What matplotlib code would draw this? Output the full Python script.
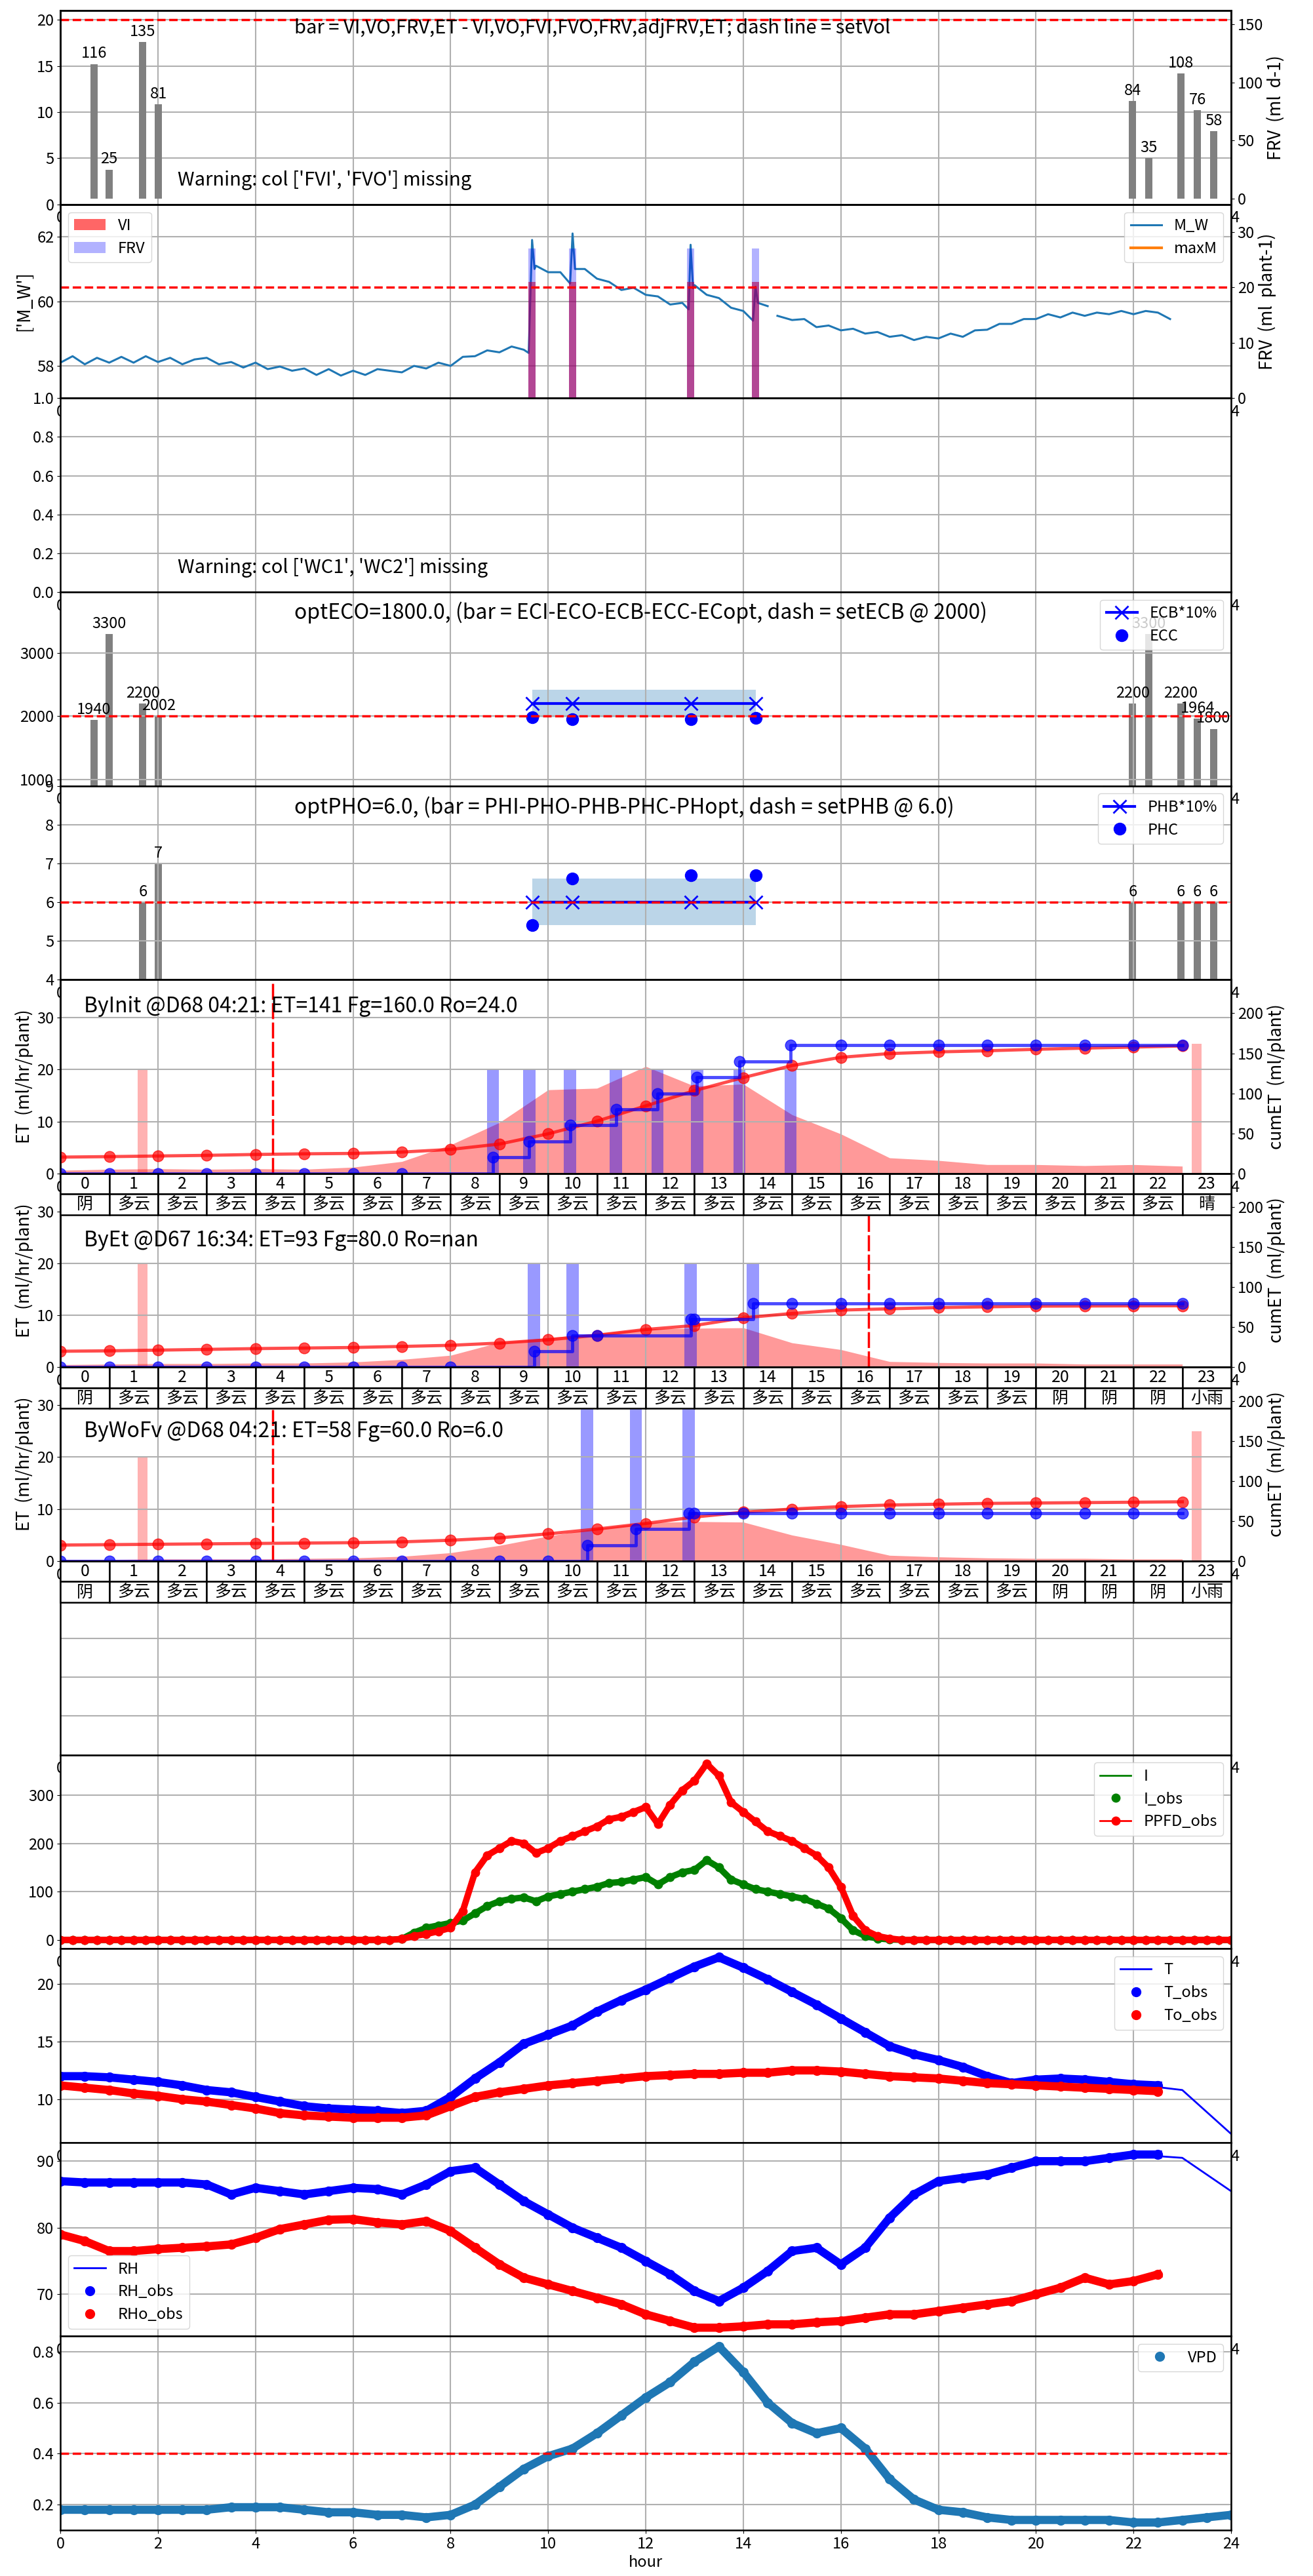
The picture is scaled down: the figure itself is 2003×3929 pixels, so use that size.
import numpy as np
import matplotlib
matplotlib.use('Agg')
import matplotlib.pyplot as plt

plt.rcParams['font.family'] = ['Noto Sans CJK SC', 'DejaVu Sans']
plt.rcParams['font.size'] = 17
plt.rcParams['axes.unicode_minus'] = False
plt.rcParams['axes.linewidth'] = 1.8
plt.rcParams['grid.linewidth'] = 1.5

# ---------------- data ----------------
bar_x = [0.69, 1.0, 1.69, 2.01, 21.98, 22.31, 22.97, 23.31, 23.64]
frv_day = [116, 25, 135, 81, 84, 35, 108, 76, 58]
set_vol = 20

event_x = [9.67, 10.5, 12.92, 14.25]
vi_vals = [21, 21, 21, 21]
frv_vals = [27, 27, 27, 27]

mw_t = [0.0, 0.25, 0.5, 0.75, 1.0, 1.25, 1.5, 1.75, 2.0, 2.25, 2.5, 2.75, 3.0, 3.25,
        3.5, 3.75, 4.0, 4.25, 4.5, 4.75, 5.0, 5.25, 5.5, 5.75, 6.0, 6.25, 6.5, 6.75,
        7.0, 7.25, 7.5, 7.75, 8.0, 8.25, 8.5, 8.75, 9.0, 9.25, 9.5, 9.6, 9.67, 9.72,
        9.75, 10.0, 10.25, 10.45, 10.5, 10.55, 10.75, 11.0, 11.25, 11.5, 11.75, 12.0,
        12.25, 12.5, 12.75, 12.88, 12.92, 12.97, 13.0, 13.25, 13.5, 13.75, 14.0, 14.2,
        14.25, 14.3, 14.5, 14.55, 14.7, 15.0, 15.25, 15.5, 15.75, 16.0, 16.25, 16.5,
        16.75, 17.0, 17.25, 17.5, 17.75, 18.0, 18.25, 18.5, 18.75, 19.0, 19.25, 19.5,
        19.75, 20.0, 20.25, 20.5, 20.75, 21.0, 21.25, 21.5, 21.75, 22.0, 22.25, 22.5, 22.75]
mw_v = [58.1, 58.3, 58.05, 58.25, 58.1, 58.28, 58.1, 58.3, 58.12, 58.25, 58.05, 58.2, 58.25, 58.05,
        58.12, 57.95, 58.1, 57.9, 57.98, 57.85, 57.92, 57.72, 57.9, 57.7, 57.85, 57.72, 57.9, 57.85,
        57.8, 58.0, 57.92, 58.1, 58.0, 58.28, 58.3, 58.48, 58.42, 58.6, 58.5, 58.4, 61.9, 61.0,
        61.1, 60.9, 60.9, 60.55, 62.1, 61.0, 61.0, 60.7, 60.6, 60.35, 60.42, 60.2,
        60.15, 59.9, 59.95, 59.75, 61.75, 60.4, 60.5, 60.2, 60.1, 59.8, 59.7, 59.4,
        60.45, 59.95, 59.85, np.nan, 59.55, 59.42, 59.45, 59.2, 59.25, 59.1, 59.15, 59.0,
        59.05, 58.9, 58.95, 58.8, 58.9, 58.85, 59.0, 58.9, 59.1, 59.12, 59.3, 59.3,
        59.45, 59.45, 59.6, 59.5, 59.65, 59.55, 59.65, 59.6, 59.7, 59.6, 59.7, 59.65, 59.45]

eco_day = [1940, 3300, 2200, 2002, 2200, 3300, 2200, 1964, 1800]
set_ecb = 2000
ecb_vals = [2200, 2200, 2200, 2200]
ecc_vals = [1980, 1950, 1950, 1975]

pho_x = [1.69, 2.01, 21.98, 22.97, 23.31, 23.64]
pho_day = [6, 7, 6, 6, 6, 6]
set_phb = 6.0
phb_vals = [6.0, 6.0, 6.0, 6.0]
phc_vals = [5.4, 6.6, 6.7, 6.7]

hours = list(range(24))

init_et = [0.6, 0.8, 0.9, 0.8, 0.9, 0.8, 1.2, 2.3, 5.5, 9.8, 16.1, 16.4, 20.6, 16.8, 17.2, 11.3,
           7.6, 3.0, 2.5, 1.7, 1.7, 1.5, 1.7, 1.4]
init_cum = [20.4, 21.0, 21.8, 22.6, 23.7, 24.5, 25.0, 26.7, 30.0, 36.7, 49.5, 65.3, 84.4, 103.4,
            119.7, 134.7, 145.0, 149.7, 151.8, 153.2, 155.0, 156.5, 157.8, 159.2]
init_ev = [8.87, 9.61, 10.45, 11.39, 12.24, 13.05, 13.92, 14.97]
init_fx = [0, 1, 2, 3, 4, 5, 6, 7] + init_ev + [16, 17, 18, 19, 20, 21, 22, 23]
init_fc = [0] * 8 + [20, 40, 60, 80, 100, 120, 140, 160] + [160] * 8
init_wx = ['阴'] + ['多云'] * 22 + ['晴']

byet_et = [0.5, 0.6, 0.7, 0.7, 0.8, 0.8, 1.0, 1.5, 2.3, 4.8, 5.7, 6.5, 7.4, 7.5, 7.6, 4.7,
           3.4, 1.1, 0.9, 0.8, 0.8, 0.6, 0.6, 0.6]
byet_cum = [20.0, 20.5, 21.4, 22.3, 23.3, 24.0, 24.7, 26.0, 27.4, 30.2, 34.3, 40.0, 47.2, 52.1,
            61.7, 67.2, 71.4, 73.0, 74.5, 75.5, 76.3, 76.5, 76.7, 76.8]
byet_ev = [9.71, 10.5, 12.92, 14.2]
byet_fx = [0, 1, 2, 3, 4, 5, 6, 7, 8, 9.71, 10.5, 11, 12.92, 13, 14.2,
           15, 16, 17, 18, 19, 20, 21, 22, 23]
byet_fc = [0] * 9 + [20, 40, 40, 60, 60, 80] + [80] * 9
byet_wx = ['阴'] + ['多云'] * 19 + ['阴', '阴', '阴', '小雨']

wofv_et = [0.3, 0.3, 0.4, 0.4, 0.4, 0.5, 0.6, 0.9, 1.6, 3.0, 4.8, 6.3, 7.4, 7.6, 7.5, 5.0,
           3.2, 1.1, 0.8, 0.6, 0.5, 0.5, 0.4, 0.4]
wofv_cum = [20.0, 20.5, 21.0, 21.5, 22.0, 22.5, 23.0, 24.0, 26.0, 29.0, 34.0, 40.0, 47.0, 55.0,
            61.0, 65.0, 68.0, 70.0, 71.0, 72.0, 72.5, 73.0, 73.5, 74.0]
wofv_ev = [10.8, 11.8, 12.88]
wofv_fx = [0, 1, 2, 3, 4, 5, 6, 7, 8, 9, 10] + wofv_ev + [13, 14, 15, 16, 17, 18, 19, 20, 21, 22, 23]
wofv_fc = [0] * 11 + [20, 40, 60] + [60] * 11
wofv_wx = ['阴'] + ['多云'] * 19 + ['阴', '阴', '阴', '小雨']

light_t = np.arange(0, 24.01, 0.25)
i_obs = [0] * 28 + [2, 15, 25, 30, 35, 40, 55, 70, 80, 85, 88, 80, 90, 95, 100, 105, 110, 118,
                    120, 125, 130, 115, 130, 140, 145, 165, 150, 125, 115, 105, 100, 95, 90, 85,
                    75, 65, 45, 20, 8, 3, 1] + [0] * 28
ppfd_obs = [0] * 28 + [2, 8, 12, 18, 25, 60, 140, 175, 190, 205, 200, 180, 190, 205, 215, 225,
                       235, 250, 255, 265, 275, 240, 280, 310, 330, 365, 340, 285, 265, 245, 225,
                       215, 205, 190, 175, 150, 110, 50, 20, 8, 3] + [0] * 28

obs_t = np.arange(0, 22.51, 0.5)
t_obs = [12.0, 12.0, 11.9, 11.7, 11.5, 11.2, 10.8, 10.6, 10.2, 9.8,
         9.4, 9.2, 9.1, 9.0, 8.8, 9.0, 10.2, 11.8, 13.2, 14.8,
         15.6, 16.4, 17.6, 18.6, 19.5, 20.5, 21.5, 22.3, 21.4, 20.4,
         19.3, 18.2, 17.0, 15.8, 14.6, 13.9, 13.4, 12.8, 12.0, 11.4,
         11.7, 11.8, 11.7, 11.5, 11.3, 11.2]
to_obs = [11.2, 11.0, 10.8, 10.5, 10.3, 10.0, 9.8, 9.5, 9.2, 8.8,
          8.6, 8.5, 8.4, 8.4, 8.4, 8.6, 9.4, 10.2, 10.6, 10.9,
          11.2, 11.4, 11.6, 11.8, 12.0, 12.1, 12.2, 12.2, 12.3, 12.3,
          12.5, 12.5, 12.4, 12.2, 12.0, 11.9, 11.8, 11.6, 11.4, 11.3,
          11.2, 11.1, 11.0, 10.9, 10.8, 10.7]
t_fc_x = [22, 23, 24]
t_fc = [11.3, 10.8, 7.0]

rh_obs = [87.0, 86.8, 86.8, 86.8, 86.8, 86.8, 86.5, 85.0, 86.0, 85.5,
          85.0, 85.5, 86.0, 85.8, 85.0, 86.5, 88.5, 89.0, 86.5, 84.0,
          82.0, 80.0, 78.5, 77.0, 75.0, 73.0, 70.5, 69.0, 71.0, 73.5,
          76.5, 77.0, 74.5, 77.0, 81.5, 85.0, 87.0, 87.5, 88.0, 89.0,
          90.0, 90.0, 90.0, 90.5, 91.0, 91.0]
rho_obs = [79.0, 78.0, 76.5, 76.5, 76.8, 77.0, 77.2, 77.5, 78.5, 79.8,
           80.5, 81.2, 81.3, 80.8, 80.5, 81.0, 79.5, 77.0, 74.5, 72.5,
           71.5, 70.5, 69.5, 68.5, 67.0, 66.0, 65.0, 65.0, 65.2, 65.5,
           65.5, 65.8, 66.0, 66.5, 67.0, 67.0, 67.5, 68.0, 68.5, 69.0,
           70.0, 71.0, 72.5, 71.5, 72.0, 73.0]
rh_fc_x = [22, 23, 24]
rh_fc = [91.0, 90.5, 85.5]

vpd_t = np.arange(0, 24.01, 0.5)
vpd = [0.18, 0.18, 0.18, 0.18, 0.18, 0.18, 0.18, 0.19, 0.19, 0.19,
       0.18, 0.17, 0.17, 0.16, 0.16, 0.15, 0.16, 0.20, 0.27, 0.34,
       0.39, 0.42, 0.48, 0.55, 0.62, 0.68, 0.76, 0.82, 0.72, 0.60,
       0.52, 0.48, 0.50, 0.42, 0.30, 0.22, 0.18, 0.17, 0.15, 0.14,
       0.14, 0.14, 0.14, 0.14, 0.13, 0.13, 0.14, 0.15, 0.16]

# ---------------- figure ----------------
fig = plt.figure(figsize=(20.03, 39.29), dpi=100)
gs = fig.add_gridspec(13, 1, left=0.046, right=0.9376, top=0.9959, bottom=0.0178, hspace=0)
axs = gs.subplots(sharex=True)
for ax in axs:
    ax.set_xlim(0, 24)
    ax.set_xticks(range(0, 25, 2))
    ax.tick_params(labelbottom=True)
    ax.grid(True)

dash = dict(color='red', ls='--', lw=2.5)


def label_bars(ax, xs, vals):
    for x, v in zip(xs, vals):
        ax.annotate(str(v), (x, v), xytext=(0, 3), textcoords='offset points',
                    ha='center', va='bottom')


# panel 1: FRV per day
ax = axs[0]
ax.set_ylim(0, 21)
ax.set_yticks([0, 5, 10, 15, 20])
ax.axhline(set_vol, **dash)
ax.text(0.2, 0.91, 'bar = VI,VO,FRV,ET - VI,VO,FVI,FVO,FRV,adjFRV,ET; dash line = setVol',
        transform=ax.transAxes, va='center', fontsize=21)
ax.text(0.1, 0.125, "Warning: col ['FVI', 'FVO'] missing", transform=ax.transAxes,
        va='center', fontsize=21)
tw = ax.twinx()
tw.bar(bar_x, frv_day, width=0.15, color='grey')
label_bars(tw, bar_x, frv_day)
tw.set_ylim(-5, 162)
tw.set_yticks([0, 50, 100, 150])
tw.set_ylabel('FRV  (ml  d-1)', fontsize=19)

# panel 2: M_W
ax = axs[1]
ax.plot(mw_t, mw_v, color='C0', lw=2.2, label='M_W')
ax.plot([], [], color='C1', lw=3, label='maxM')
ax.set_ylim(57, 63)
ax.set_yticks([58, 60, 62])
ax.set_ylabel("['M_W']", fontsize=19)
ax.legend(loc='upper right')
tw = ax.twinx()
tw.bar(event_x, vi_vals, width=0.15, color='red', alpha=0.6, label='VI')
tw.bar(event_x, frv_vals, width=0.15, color='blue', alpha=0.3, label='FRV')
tw.axhline(20, **dash)
tw.set_ylim(0, 35)
tw.set_yticks([0, 10, 20, 30])
tw.set_ylabel('FRV  (ml  plant-1)', fontsize=19)
tw.legend(loc='upper left')

# panel 3: WC
ax = axs[2]
ax.set_ylim(0, 1)
ax.text(0.1, 0.125, "Warning: col ['WC1', 'WC2'] missing", transform=ax.transAxes,
        va='center', fontsize=21)

# panel 4: EC
ax = axs[3]
ax.bar(bar_x, eco_day, width=0.15, color='grey')
label_bars(ax, bar_x, eco_day)
ax.fill_between([event_x[0], event_x[-1]], 1980, 2420, color='C0', alpha=0.3, lw=0)
ax.plot(event_x, ecb_vals, 'x-', color='blue', ms=14, mew=2, lw=3, label='ECB*10%')
ax.plot(event_x, ecc_vals, 'o', color='blue', ms=13, label='ECC')
ax.axhline(set_ecb, zorder=3, **dash)
ax.set_ylim(900, 3960)
ax.set_yticks([1000, 2000, 3000])
ax.legend(loc='upper right')
ax.text(0.2, 0.895, 'optECO=1800.0, (bar = ECI-ECO-ECB-ECC-ECopt, dash = setECB @ 2000)',
        transform=ax.transAxes, va='center', fontsize=23)

# panel 5: PH
ax = axs[4]
ax.bar(pho_x, pho_day, width=0.15, color='grey')
label_bars(ax, pho_x, pho_day)
ax.fill_between([event_x[0], event_x[-1]], 5.4, 6.6, color='C0', alpha=0.3, lw=0)
ax.plot(event_x, phb_vals, 'x-', color='blue', ms=14, mew=2, lw=3, label='PHB*10%')
ax.plot(event_x, phc_vals, 'o', color='blue', ms=13, label='PHC')
ax.axhline(set_phb, zorder=3, **dash)
ax.set_ylim(4, 9)
ax.legend(loc='upper right')
ax.text(0.2, 0.89, 'optPHO=6.0, (bar = PHI-PHO-PHB-PHC-PHopt, dash = setPHB @ 6.0)',
        transform=ax.transAxes, va='center', fontsize=23)


# panels 6-8: ET
def et_panel(ax, z, et, cum, fx, fc, ev, pink_x, pink_h, ev_h, vline, title, ty, weather):
    ax.set_zorder(z)
    ax.fill_between(hours, et, color='red', alpha=0.4, lw=0)
    ax.bar(pink_x, pink_h, width=0.2, color='red', alpha=0.3)
    ax.bar(ev, [ev_h] * len(ev), width=0.25, color='blue', alpha=0.4)
    ax.axvline(vline, ymax=0.98, color='red', ls=(0, (7, 1.5)), lw=2.5)
    ax.set_ylim(0, 37.3)
    ax.set_yticks([0, 10, 20, 30])
    ax.set_ylabel('ET  (ml/hr/plant)', fontsize=19)
    ax.text(0.02, ty, title, transform=ax.transAxes, va='center', fontsize=23)
    tab = ax.table(cellText=[[str(h) for h in hours], weather], cellLoc='center',
                   bbox=[0, -63 / 296, 1, 63 / 296])
    tab.auto_set_font_size(False)
    tab.set_fontsize(18)
    tab.set_zorder(10)
    for c in tab.get_celld().values():
        c.set_linewidth(1.8)
    tw = ax.twinx()
    tw.set_zorder(z + 0.5)
    tw.plot(hours, cum, 'o-', color='red', alpha=0.7, lw=3.5, ms=12)
    tw.plot(fx, fc, 'o-', color='blue', alpha=0.7, lw=3.5, ms=12, drawstyle='steps-post')
    tw.set_ylim(0, 242)
    tw.set_yticks([0, 50, 100, 150, 200])
    tw.set_ylabel('cumET  (ml/plant)', fontsize=19)


et_panel(axs[5], 6, init_et, init_cum, init_fx, init_fc, init_ev, [1.69, 23.3], [20, 25], 20,
         4.35, 'ByInit @D68 04:21: ET=141 Fg=160.0 Ro=24.0', 0.862, init_wx)
et_panel(axs[6], 5, byet_et, byet_cum, byet_fx, byet_fc, byet_ev, [1.69], [20], 20,
         16.57, 'ByEt @D67 16:34: ET=93 Fg=80.0 Ro=nan', 0.655, byet_wx)
et_panel(axs[7], 4, wofv_et, wofv_cum, wofv_fx, wofv_fc, wofv_ev, [1.69, 23.3], [20, 25], 30,
         4.35, 'ByWoFv @D68 04:21: ET=58 Fg=60.0 Ro=6.0', 0.67, wofv_wx)

# panel 9: empty
ax = axs[8]
ax.set_ylim(0, 1)
ax.set_yticks([0.0, 0.2, 0.4, 0.6, 0.8, 1.0])
ax.tick_params(labelleft=False, left=False)

# panel 10: light
ax = axs[9]
ax.plot([], [], color='green', lw=2, label='I')
ax.plot(light_t, i_obs, '-', color='green', lw=7)
ax.plot(light_t, i_obs, 'o', color='green', ms=9, label='I_obs')
ax.plot(light_t, ppfd_obs, '-', color='red', lw=7)
ax.plot(light_t, ppfd_obs, 'o-', color='red', ms=9, lw=2, label='PPFD_obs')
ax.legend(loc='upper right')

# panel 11: T
ax = axs[10]
ax.plot(t_fc_x, t_fc, '-', color='blue', lw=2, label='T')
ax.plot(obs_t, t_obs, '-', color='blue', lw=9)
ax.plot(obs_t, t_obs, 'o', color='blue', ms=10, label='T_obs')
ax.plot(obs_t, to_obs, '-', color='red', lw=9)
ax.plot(obs_t, to_obs, 'o', color='red', ms=10, label='To_obs')
ax.set_ylim(6.25, 23.05)
ax.set_yticks([10, 15, 20])
ax.legend(loc='upper right')

# panel 12: RH
ax = axs[11]
ax.plot(rh_fc_x, rh_fc, '-', color='blue', lw=2, label='RH')
ax.plot(obs_t, rh_obs, '-', color='blue', lw=9)
ax.plot(obs_t, rh_obs, 'o', color='blue', ms=10, label='RH_obs')
ax.plot(obs_t, rho_obs, '-', color='red', lw=9)
ax.plot(obs_t, rho_obs, 'o', color='red', ms=10, label='RHo_obs')
ax.set_ylim(63.7, 92.8)
ax.set_yticks([70, 80, 90])
ax.legend(loc='lower left')

# panel 13: VPD
ax = axs[12]
ax.plot(vpd_t, vpd, '-', color='C0', lw=9)
ax.plot(vpd_t, vpd, 'o', color='C0', ms=10, label='VPD')
ax.axhline(0.4, **dash)
ax.set_ylim(0.1, 0.86)
ax.set_yticks([0.2, 0.4, 0.6, 0.8])
ax.legend(loc='upper right')
ax.set_xlabel('hour')

fig.savefig('out.png', dpi=100)
